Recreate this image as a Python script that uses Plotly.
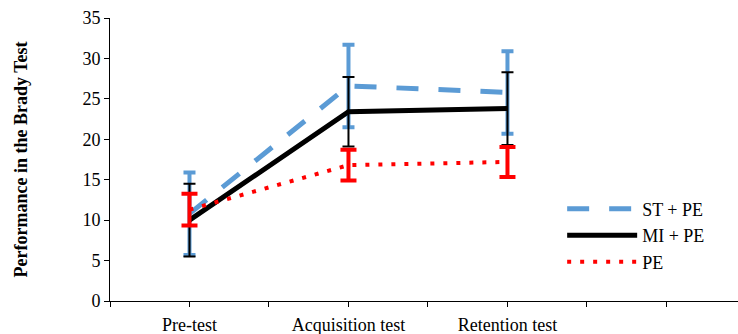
import plotly.graph_objects as go

categories = ["Pre-test", "Acquisition test", "Retention test"]
cat_pos = [1, 3, 5]
st_pe = [10.8, 26.6, 25.8]
st_pe_err = [5.1, 5.1, 5.1]
mi_pe = [10.0, 23.4, 23.8]
mi_pe_err = [4.5, 4.3, 4.5]
pe = [11.3, 16.8, 17.2]
pe_err = [1.95, 1.9, 1.85]

fig = go.Figure()
fig.add_trace(go.Scatter(
    x=cat_pos, y=st_pe, mode="lines", name="ST + PE",
    line=dict(color="#5B9BD5", width=5, dash="22px,20px"),
    error_y=dict(type="data", array=st_pe_err, color="#5B9BD5", thickness=4, width=6),
))
fig.add_trace(go.Scatter(
    x=cat_pos, y=mi_pe, mode="lines", name="MI + PE",
    line=dict(color="black", width=5),
    error_y=dict(type="data", array=mi_pe_err, color="black", thickness=2, width=6),
))
fig.add_trace(go.Scatter(
    x=cat_pos, y=pe, mode="lines", name="PE",
    line=dict(color="red", width=4, dash="4px,9px"),
    error_y=dict(type="data", array=pe_err, color="red", thickness=4, width=8),
))

tickvals = list(range(0, 9))
ticktext = [categories[cat_pos.index(v)] if v in cat_pos else "" for v in tickvals]

fig.update_layout(
    width=738, height=334,
    margin=dict(l=110, r=0, t=18, b=33),
    plot_bgcolor="white", paper_bgcolor="white",
    font=dict(family="Liberation Serif", size=18, color="black"),
    showlegend=True,
    legend=dict(x=0.72, y=0.39, xanchor="left", yanchor="top",
                bgcolor="rgba(0,0,0,0)", itemwidth=70,
                font=dict(family="Liberation Serif", size=18),
                tracegroupgap=0),
    xaxis=dict(range=[0, 7.9], tickmode="array", tickvals=tickvals, ticktext=ticktext,
               showline=True, linecolor="black", linewidth=1, showgrid=False, zeroline=False,
               ticks="outside", ticklen=5, tickcolor="black", ticklabelstandoff=2,
               automargin=False),
    yaxis=dict(range=[0, 35], tickvals=[0, 5, 10, 15, 20, 25, 30, 35],
               showline=True, linecolor="black", linewidth=1, showgrid=False, zeroline=False,
               ticks="outside", ticklen=5, tickcolor="black", automargin=False,
               title=dict(text="<b>Performance in the Brady Test</b>",
                          font=dict(family="Liberation Serif", size=18), standoff=50)),
)

fig.write_html("out.html", config={"displayModeBar": False},
               post_script="document.body.style.margin='0';")
